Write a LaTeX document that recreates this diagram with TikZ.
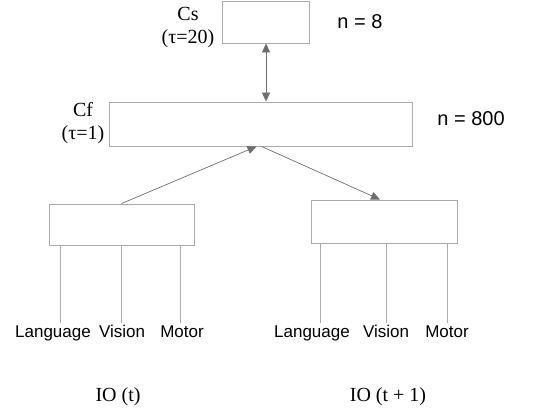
\documentclass[tikz,border=0pt]{standalone}
\usepackage{fontspec}
\setmainfont{Liberation Serif}
\setsansfont{Liberation Sans}
\usepackage{xcolor}
\definecolor{boxgray}{HTML}{ABABAB}
\definecolor{arrgray}{HTML}{6E6E6E}
\usepackage{tikz}
\usetikzlibrary{arrows.meta,positioning}

\begin{document}
\begin{tikzpicture}[x=1pt,y=-1pt,
  unit/.style={draw=boxgray,line width=0.9pt,inner sep=0pt},
  lab/.style={font=\fontsize{20}{23}\selectfont,align=center,inner sep=0pt},
  nlab/.style={font=\sffamily\fontsize{20}{22}\selectfont,inner sep=0pt},
  mod/.style={font=\sffamily\fontsize{17}{19}\selectfont,inner sep=2pt,
    text height=12.5pt,text depth=3.5pt},
  link/.style={draw=arrgray,line width=0.7pt},
  wire/.style={draw=boxgray,line width=0.8pt},
  tip/.style={-{Triangle[length=9pt,width=8pt]}}]
\useasboundingbox (0,0) rectangle (535,411);
% context layers
\node[unit,minimum width=87pt,minimum height=42pt] (cs) at (265.5,22) {};
\node[unit,minimum width=303pt,minimum height=44pt] (cf) at (260.5,124) {};
\node[lab] (cslab) at (188,28) {Cs\\(τ=20)};
\node[lab] (cflab) at (83,123) {Cf\\(τ=1)};
\node[nlab] (csn) at (360,22) {n = 8};
\node[nlab] (cfn) at (471,119) {n = 800};
% io layers
\node[unit,minimum width=145pt,minimum height=41pt] (iot) at (121.5,224.5) {};
\node[unit,minimum width=146pt,minimum height=43pt] (iotn) at (384,221.5) {};
\node[mod] (lang1) at (53,333) {Language};
\node[mod] (vis1) at (122,333) {Vision};
\node[mod] (mot1) at (182,333) {Motor};
\node[mod] (lang2) at (312,333) {Language};
\node[mod] (vis2) at (386,333) {Vision};
\node[mod] (mot2) at (447,333) {Motor};
\node[lab] (iotlab) at (118,397) {IO (t)};
\node[lab] (iotnlab) at (388,397) {IO (t + 1)};
% connectors
\draw[link,{Triangle[length=9pt,width=8pt]}-{Triangle[length=9pt,width=8pt]}]
  ([xshift=0.5pt]cs.south) -- ([xshift=0.5pt]cs.south |- cf.north);
\draw[link,tip] (iot.north) -- ([xshift=-4pt]cf.south);
\draw[link,tip] ([xshift=1pt]cf.south) -- ([xshift=-4pt]iotn.north);
\draw[wire] ([xshift=7pt]lang1.north |- iot.south) -- ([xshift=7pt]lang1.north);
\draw[wire] ([xshift=-1pt]vis1.north |- iot.south) -- ([xshift=-1pt]vis1.north);
\draw[wire] ([xshift=-2pt]mot1.north |- iot.south) -- ([xshift=-2pt]mot1.north);
\draw[wire] ([xshift=8pt]lang2.north |- iotn.south) -- ([xshift=8pt]lang2.north);
\draw[wire] (vis2.north |- iotn.south) -- (vis2.north);
\draw[wire] (mot2.north |- iotn.south) -- (mot2.north);
\end{tikzpicture}
\end{document}
